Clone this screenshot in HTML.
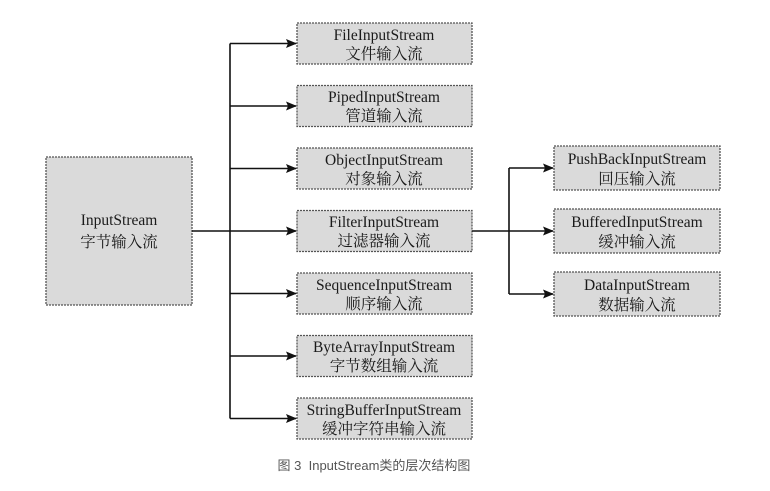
<!DOCTYPE html>
<html><head><meta charset="utf-8"><style>
body{margin:0;background:#fff;}
svg text{font-family:"Liberation Serif","Noto Serif CJK SC",serif;fill:#1a1a1a;}
</style></head><body>
<svg width="770" height="486" viewBox="0 0 770 486" xmlns="http://www.w3.org/2000/svg">
<defs><marker id="a" markerWidth="11" markerHeight="9" refX="10" refY="4.5" orient="auto" markerUnits="userSpaceOnUse"><path d="M0,0 L11,4.5 L0,9 L2,4.5 z" fill="#111"/></marker></defs>
<g fill="#dadada" stroke="#555" stroke-width="1.3" stroke-dasharray="2,1">
<rect x="46" y="157" width="146" height="148"/>
<rect x="297" y="23" width="175" height="41"/>
<rect x="297" y="85.5" width="175" height="41"/>
<rect x="297" y="148" width="175" height="41"/>
<rect x="297" y="210.5" width="175" height="41"/>
<rect x="297" y="273" width="175" height="41"/>
<rect x="297" y="335.5" width="175" height="41"/>
<rect x="297" y="398" width="175" height="41"/>
<rect x="554" y="146" width="166" height="44"/>
<rect x="554" y="209" width="166" height="44"/>
<rect x="554" y="272" width="166" height="44"/>
</g>
<g stroke="#111" stroke-width="1.6" fill="none">
<line x1="192" y1="231" x2="296" y2="231" marker-end="url(#a)"/>
<line x1="230" y1="43.5" x2="230" y2="418.5"/>
<line x1="230" y1="43.5" x2="296" y2="43.5" marker-end="url(#a)"/>
<line x1="230" y1="106" x2="296" y2="106" marker-end="url(#a)"/>
<line x1="230" y1="168.5" x2="296" y2="168.5" marker-end="url(#a)"/>
<line x1="230" y1="293.5" x2="296" y2="293.5" marker-end="url(#a)"/>
<line x1="230" y1="356" x2="296" y2="356" marker-end="url(#a)"/>
<line x1="230" y1="418.5" x2="296" y2="418.5" marker-end="url(#a)"/>
<line x1="472" y1="231" x2="553" y2="231" marker-end="url(#a)"/>
<line x1="509" y1="168" x2="509" y2="294"/>
<line x1="509" y1="168" x2="553" y2="168" marker-end="url(#a)"/>
<line x1="509" y1="294" x2="553" y2="294" marker-end="url(#a)"/>
</g>
<g font-size="15.5" text-anchor="middle">
<text x="119" y="225">InputStream</text><text x="119" y="247">字节输入流</text>
<text x="384" y="40">FileInputStream</text><text x="384" y="59">文件输入流</text>
<text x="384" y="102">PipedInputStream</text><text x="384" y="121">管道输入流</text>
<text x="384" y="165">ObjectInputStream</text><text x="384" y="184">对象输入流</text>
<text x="384" y="227">FilterInputStream</text><text x="384" y="246">过滤器输入流</text>
<text x="384" y="290">SequenceInputStream</text><text x="384" y="309">顺序输入流</text>
<text x="384" y="352">ByteArrayInputStream</text><text x="384" y="371">字节数组输入流</text>
<text x="384" y="415">StringBufferInputStream</text><text x="384" y="434">缓冲字符串输入流</text>
<text x="637" y="164">PushBackInputStream</text><text x="637" y="184">回压输入流</text>
<text x="637" y="227">BufferedInputStream</text><text x="637" y="247">缓冲输入流</text>
<text x="637" y="290">DataInputStream</text><text x="637" y="310">数据输入流</text>
</g>
<text x="374" y="470" font-size="13" text-anchor="middle" style="font-family:'Liberation Sans','Noto Sans CJK SC',sans-serif;fill:#555">图 3&#160; InputStream类的层次结构图</text>
</svg>
</body></html>
